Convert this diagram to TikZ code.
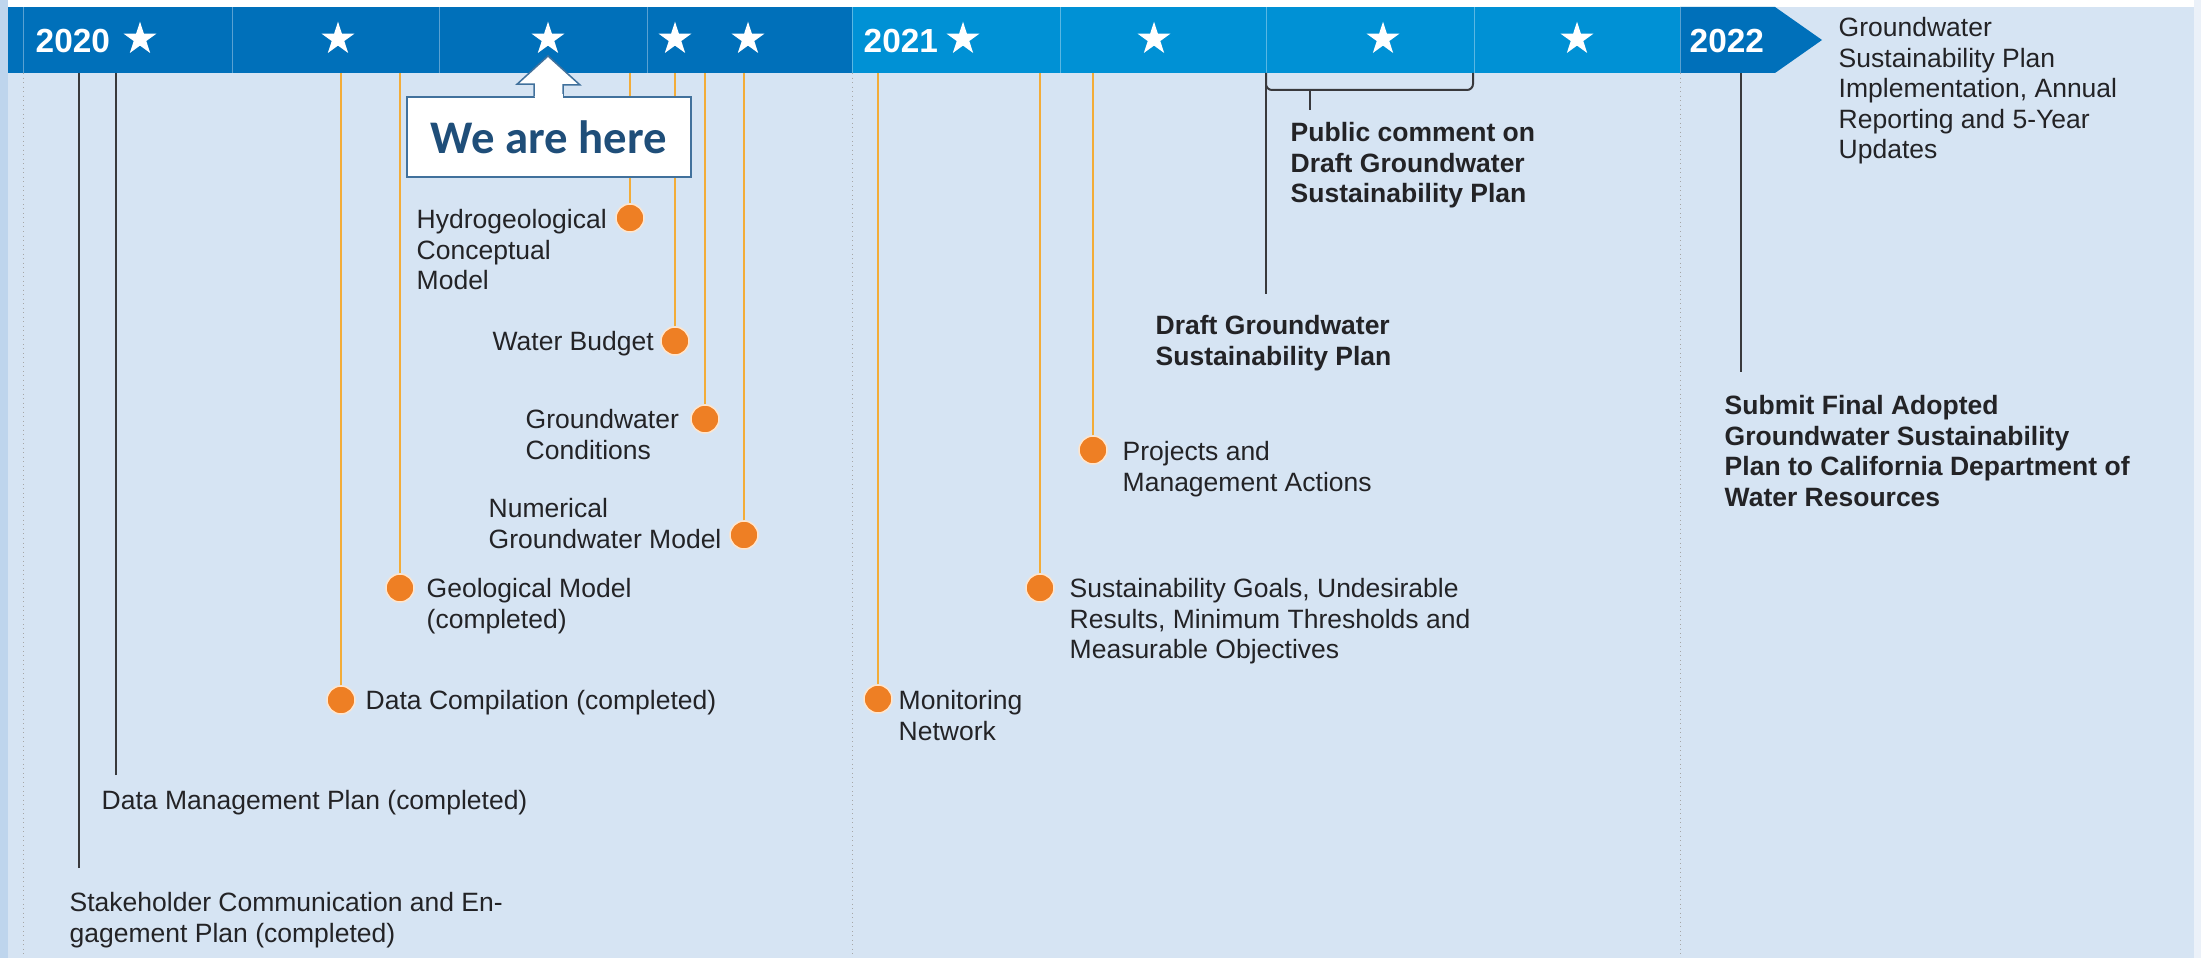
\documentclass[tikz,border=0pt]{standalone}
\usepackage{fontspec}
\setmainfont{Liberation Sans}
\newfontfamily\herefont{Carlito}
\usetikzlibrary{shapes.geometric,calc}
\definecolor{pagebg}{RGB}{214,228,243}
\definecolor{edgeblue}{RGB}{190,213,237}
\definecolor{bardark}{RGB}{0,112,186}
\definecolor{barlight}{RGB}{0,145,213}
\definecolor{dotorange}{RGB}{238,127,36}
\definecolor{lineorange}{RGB}{243,172,56}
\definecolor{inkgray}{RGB}{35,35,38}
\definecolor{herenavy}{RGB}{31,78,121}
\definecolor{hereedge}{RGB}{65,113,156}

\begin{document}
\begin{tikzpicture}[x=0.1mm, y=-0.1mm,
    yearlbl/.style={font=\fontsize{9.5}{11}\selectfont\bfseries, text=white, inner sep=0, anchor=west},
    starmark/.style={star, star points=5, star point ratio=2.618, fill=white, inner sep=0, minimum size=3.46mm},
    milestone/.style={circle, fill=dotorange, draw=white!80!orange, line width=0.15mm, minimum size=2.8mm, inner sep=0},
    txt/.style={font=\fontsize{7.54}{8.68}\selectfont, text=inkgray, align=left, inner sep=0, anchor=north west},
    btxt/.style={txt, font=\fontsize{7.54}{8.68}\selectfont\bfseries},
    oline/.style={lineorange, line width=0.2mm},
    kline/.style={inkgray!90, line width=0.2mm},
    divider/.style={white, opacity=0.35, line width=0.1mm},
    gridline/.style={gray!70, densely dotted, line width=0.1mm}
]
\useasboundingbox (0,0) rectangle (2201,958);

% Background
\fill[pagebg] (0,0) rectangle (2201,958);
\fill[edgeblue] (0,0) rectangle (8,958);
\fill[white] (8,0) rectangle (2194,7);
\fill[pagebg!50!white] (2194,0) rectangle (2201,958);

% Timeline bar
\fill[bardark] (8,7) rectangle (852,73);
\fill[barlight] (852,7) rectangle (1680,73);
\fill[bardark] (1680,7) -- (1775,7) -- (1822,40) -- (1775,73) -- (1680,73) -- cycle;
\foreach \dx in {23,232,439,647,852,1060,1266,1474,1680}
    \draw[divider] (\dx,7) -- (\dx,73);
\coordinate (barbot) at (0,73);

% Year dividers
\foreach \dx in {23,852,1680}
    \draw[gridline] (\dx,73) -- (\dx,958);

% Years and stars
\node[yearlbl] (y20) at (35,41) {2020};
\node[yearlbl] (y21) at (863,41) {2021};
\node[yearlbl] (y22) at (1689,41) {2022};
\foreach \sx in {140,338,548,675,748,963,1154,1383,1577}
    \node[starmark] (st\sx) at (\sx,39) {};

% Black milestones
\coordinate (sc) at (79,868);
\coordinate (dm) at (116,775);
\coordinate (dr) at (1266,294);
\coordinate (fa) at (1741,372);
\foreach \c in {sc,dm,dr,fa}
    \draw[kline] (\c) -- (\c |- barbot);

% Public comment bracket
\coordinate (pc) at (1310,110);
\draw[kline, rounded corners=0.6mm] (dr |- barbot) |- (1473,90) -- (1473,73);
\draw[kline] (1310,90) -- (pc);

% Orange milestones
\foreach \n/\dx/\dy in {dc/341/700, gm/400/588, hc/630/218, wb/675/341, gc/705/419,
                        nm/744/535, mn/878/699, sg/1040/588, pm/1093/450} {
    \node[milestone] (\n) at (\dx,\dy) {};
    \draw[oline] (\n) -- (\n |- barbot);
}

% Labels 2020
\node[txt] (lsc) at (69,892) {Stakeholder Communication and En-\\gagement Plan (completed)};
\node[txt] (ldm) at (101,790) {Data Management Plan (completed)};
\node[txt] (ldc) at (365,690) {Data Compilation (completed)};
\node[txt] (lgm) at (426,578) {Geological Model\\(completed)};
\node[txt] (lhc) at (416,209) {Hydrogeological\\Conceptual\\Model};
\node[txt] (lwb) at (492,331) {Water Budget};
\node[txt] (lgc) at (525,409) {Groundwater\\Conditions};
\node[txt] (lnm) at (488,498) {Numerical\\Groundwater Model};

% Labels 2021
\node[txt] (lmn) at (898,690) {Monitoring\\Network};
\node[txt] (lsg) at (1069,578) {Sustainability Goals, Undesirable\\Results, Minimum Thresholds and\\Measurable Objectives};
\node[txt] (lpm) at (1122,441) {Projects and\\Management Actions};
\node[btxt] (ldr) at (1155,315) {Draft Groundwater\\Sustainability Plan};
\node[btxt] (lpc) at (1290,122) {Public comment on\\Draft Groundwater\\Sustainability Plan};

% Labels 2022
\node[btxt] (lfa) at (1724,395) {Submit Final Adopted\\Groundwater Sustainability\\Plan to California Department of\\Water Resources};
\node[txt] (lim) at (1838,17) {Groundwater\\Sustainability Plan\\Implementation, Annual\\Reporting and 5-Year\\Updates};

% We are here
\node[draw=hereedge, fill=white, line width=0.15mm, minimum width=28.4mm, minimum height=8mm,
      font=\herefont\fontsize{13.3}{15}\selectfont\bfseries, text=herenavy] (here) at (549,137) {We are here};
\filldraw[draw=hereedge, fill=white, line width=0.15mm]
    ($(here.north)+(-15,0)$) -- ++(0,-12) -- ++(-17,0) -- ($(st548)+(0,17)$) -- ++(32,29) -- ++(-17,0) -- ++(0,12);
\fill[white] ($(here.north)+(-14,-2)$) rectangle ($(here.north)+(14,1.5)$);

\end{tikzpicture}
\end{document}
